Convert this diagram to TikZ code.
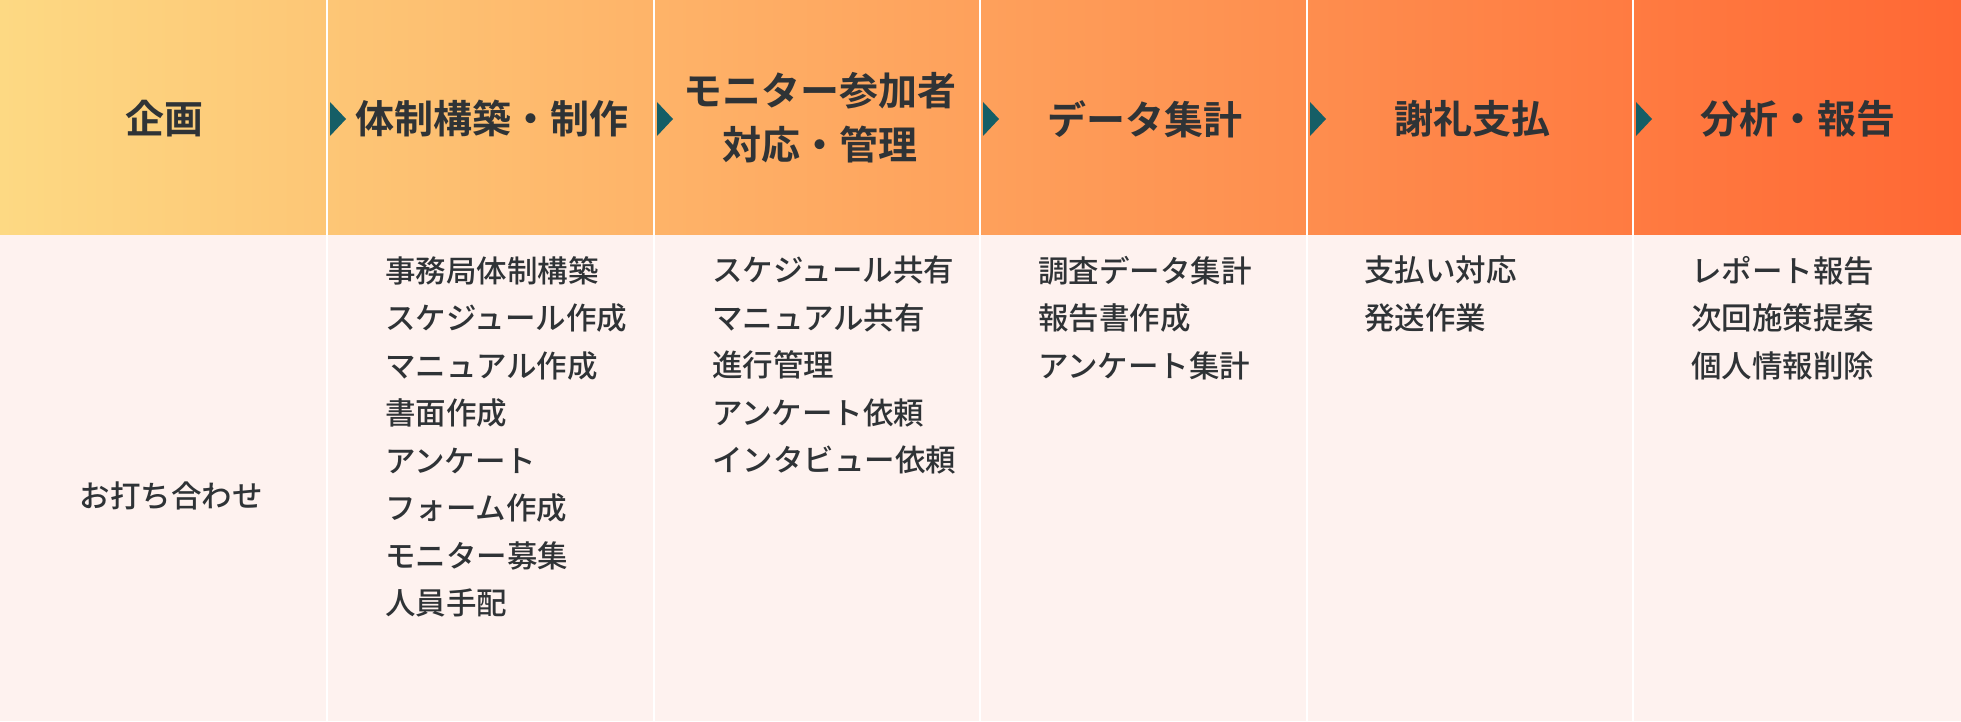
\documentclass[tikz,border=0pt]{standalone}
\usepackage{fontspec}
\newfontfamily\jpb{Noto Sans CJK JP Bold}
\newfontfamily\jpm{Noto Sans CJK JP Medium}
\definecolor{bodybg}{HTML}{FEF2EF}
\definecolor{teal}{HTML}{155E66}
\definecolor{txt}{HTML}{2F3336}
\begin{document}
\begin{tikzpicture}[x=1pt,y=1pt,
  head/.style={font=\jpb\fontsize{39}{54}\selectfont,text=txt,align=center,inner sep=0},
  items/.style={font=\jpm\fontsize{30.5}{47.5}\selectfont,text=txt,align=left,anchor=north west,inner sep=0},
  arr/.style={fill=teal,draw=none}]
\useasboundingbox (0,0) rectangle (1961,721);
\fill[bodybg] (0,0) rectangle (1961,486);
\shade[left color={rgb,255:red,253;green,217;blue,131}, right color={rgb,255:red,255;green,104;blue,52}] (0,486) rectangle (1961,721);
\foreach \b in {327,654,980,1307,1633} {
  \draw[white,line width=1.5pt] (\b,0) -- (\b,721);
  \fill[arr] (\b+3,602+17) -- (\b+19,602) -- (\b+3,602-17) -- cycle;
}
\node[head] (h1) at (164,602) {企画};
\node[head] (h2) at (492,602) {体制構築・制作};
\node[head] (h3) at (820,603) {モニター参加者\\対応・管理};
\node[head] (h4) at (1145,602) {データ集計};
\node[head] (h5) at (1472,602) {謝礼支払};
\node[head] (h6) at (1798,602) {分析・報告};
\node[font=\jpm\fontsize{30.5}{47.5}\selectfont,text=txt,inner sep=0] (b1) at (171,225) {お打ち合わせ};
\node[items] (b2) at (385,465) {事務局体制構築\\スケジュール作成\\マニュアル作成\\書面作成\\アンケート\\フォーム作成\\モニター募集\\人員手配};
\node[items] (b3) at (712,465) {スケジュール共有\\マニュアル共有\\進行管理\\アンケート依頼\\インタビュー依頼};
\node[items] (b4) at (1038,465) {調査データ集計\\報告書作成\\アンケート集計};
\node[items] (b5) at (1364,465) {支払い対応\\発送作業};
\node[items] (b6) at (1691,465) {レポート報告\\次回施策提案\\個人情報削除};
\end{tikzpicture}
\end{document}
